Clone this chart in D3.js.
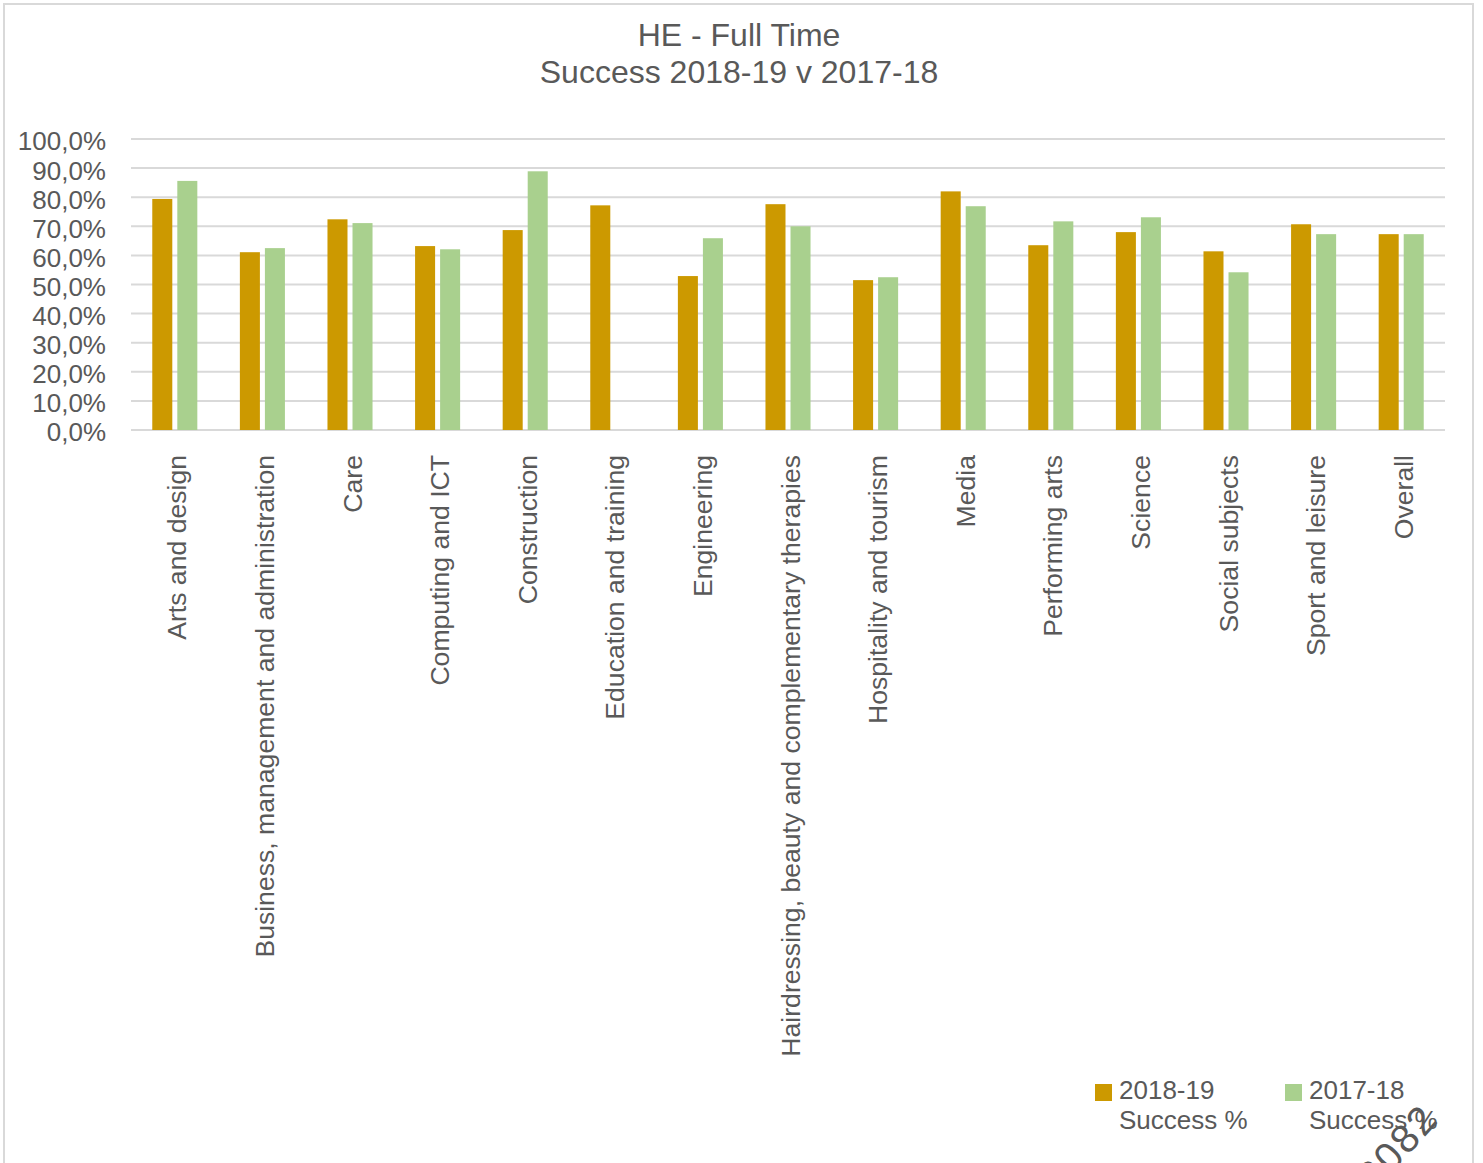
<!DOCTYPE html>
<html>
<head>
<meta charset="utf-8">
<script src="https://cdn.jsdelivr.net/npm/d3@7"></script>
<style>
  html, body { margin: 0; padding: 0; background: #fff; }
  svg { display: block; font-family: "Liberation Sans", Arial, sans-serif; }
</style>
</head>
<body>
<script>
// Subject areas along the x axis
const categories = [
  "Arts and design",
  "Business, management and administration",
  "Care",
  "Computing and ICT",
  "Construction",
  "Education and training",
  "Engineering",
  "Hairdressing, beauty and complementary therapies",
  "Hospitality and tourism",
  "Media",
  "Performing arts",
  "Science",
  "Social subjects",
  "Sport and leisure",
  "Overall"
];

// Success rates (%) per year; null where no figure exists
const success2018_19 = [79.4, 61.1, 72.4, 63.2, 68.7, 77.2, 52.9, 77.6, 51.5, 82.0, 63.5, 68.0, 61.4, 70.7, 67.3];
const success2017_18 = [85.6, 62.5, 71.1, 62.1, 88.9, null, 65.9, 70.0, 52.5, 76.9, 71.7, 73.1, 54.2, 67.3, 67.3];

const seriesNames = ["2018-19 Success %", "2017-18 Success %"];
const seriesColors = ["#cc9900", "#a9d08e"];
const yTicks = [0, 10, 20, 30, 40, 50, 60, 70, 80, 90, 100];
const titleLines = ["HE - Full Time", "Success 2018-19 v 2017-18"];

const W = 1483, H = 1163;
const textColor = "#595959";
const gridColor = "#d9d9d9";

const svg = d3.select("body").append("svg")
  .attr("width", W).attr("height", H);

// chart frame
svg.append("rect")
  .attr("x", 4).attr("y", 4)
  .attr("width", 1469).attr("height", H + 20)
  .attr("fill", "#fff")
  .attr("stroke", gridColor).attr("stroke-width", 2);

// title
svg.append("text")
  .attr("x", 739).attr("y", 46)
  .attr("text-anchor", "middle")
  .attr("fill", textColor)
  .attr("font-size", 32)
  .selectAll("tspan").data(titleLines).join("tspan")
  .attr("x", 739)
  .attr("dy", (d, i) => i === 0 ? 0 : 37)
  .text(d => d);

// scales
const x0 = d3.scaleBand().domain(categories).range([131, 1445]).padding(0);
const x1 = d3.scaleBand().domain(seriesNames).range([0, x0.bandwidth()])
  .paddingInner(0.2).paddingOuter(0.85);
const y = d3.scaleLinear().domain([0, 100]).range([430, 139]);

// horizontal gridlines
svg.append("g").selectAll("line").data(yTicks).join("line")
  .attr("x1", 131).attr("x2", 1445)
  .attr("y1", d => y(d)).attr("y2", d => y(d))
  .attr("stroke", gridColor).attr("stroke-width", 2);

// y axis labels
const fmt = d => d3.format(".1f")(d).replace(".", ",") + "%";
const yAxis = d3.axisLeft(y).tickValues(yTicks).tickFormat(fmt).tickSize(0).tickPadding(0);
const gy = svg.append("g").attr("transform", "translate(106,0)").call(yAxis);
gy.select(".domain").remove();
gy.selectAll("text")
  .attr("fill", textColor)
  .attr("font-size", 26)
  .attr("font-family", "'Liberation Sans', Arial, sans-serif")
  .attr("dy", "0.42em");

// bars
const rows = categories.map((c, i) => ({
  cat: c,
  vals: [success2018_19[i], success2017_18[i]]
}));
const groups = svg.append("g").selectAll("g").data(rows).join("g")
  .attr("transform", d => `translate(${x0(d.cat)},0)`);
groups.selectAll("rect")
  .data(d => d.vals.map((v, k) => ({ v, k })).filter(e => e.v != null))
  .join("rect")
  .attr("x", e => x1(seriesNames[e.k]))
  .attr("width", x1.bandwidth())
  .attr("y", e => y(e.v))
  .attr("height", e => y(0) - y(e.v))
  .attr("fill", e => seriesColors[e.k]);

// category labels (rotated)
const xAxis = d3.axisBottom(x0).tickSize(0).tickPadding(0);
const gx = svg.append("g").attr("transform", "translate(2,455)").call(xAxis);
gx.select(".domain").remove();
gx.selectAll("text")
  .attr("fill", textColor)
  .attr("font-size", 26.6)
  .attr("font-family", "'Liberation Sans', Arial, sans-serif")
  .attr("transform", "rotate(-90)")
  .attr("text-anchor", "end")
  .attr("x", 0).attr("y", 0)
  .attr("dy", "0.36em");

// legend
const legendX = [1095, 1285];
const legend = svg.append("g").selectAll("g").data(seriesNames).join("g")
  .attr("transform", (d, i) => `translate(${legendX[i]},1084)`);
legend.append("rect")
  .attr("width", 17).attr("height", 17)
  .attr("fill", (d, i) => seriesColors[i]);
legend.append("text")
  .attr("fill", textColor)
  .attr("font-size", 26)
  .selectAll("tspan").data(d => [d.split(" ")[0], d.split(" ").slice(1).join(" ")]).join("tspan")
  .attr("x", 24)
  .attr("y", (d, i) => 15 + i * 30)
  .text(d => d);

// stamp in the lower right corner
svg.append("text")
  .attr("transform", "translate(1440,1120) rotate(-48)")
  .attr("text-anchor", "end")
  .attr("fill", textColor)
  .attr("font-size", 40)
  .attr("letter-spacing", 2)
  .text("2082");
</script>
</body>
</html>
